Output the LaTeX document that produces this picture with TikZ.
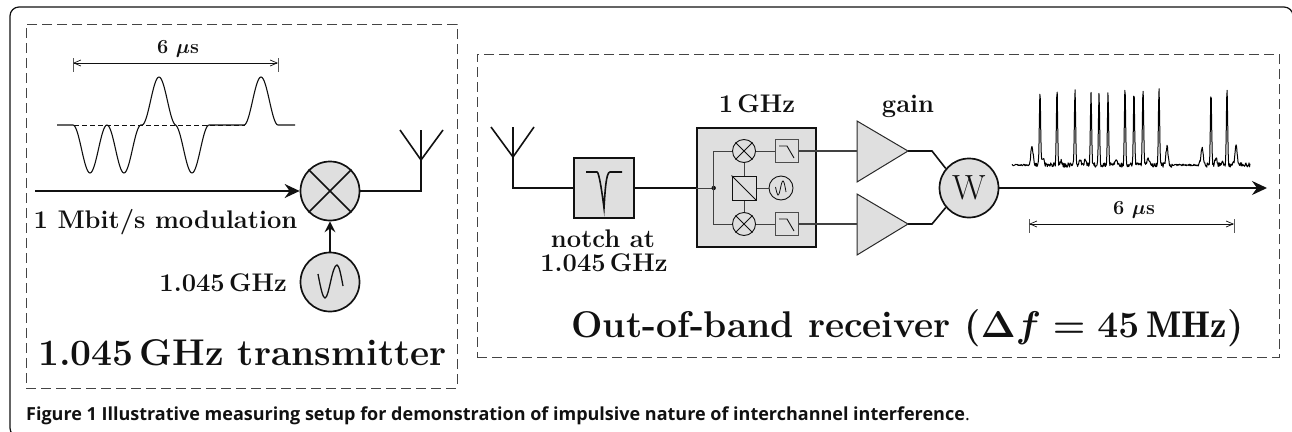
\RequirePackage{fix-cm}
\documentclass[tikz,border=0pt]{standalone}
\usepackage{fontspec}
\newfontfamily\capfont{Open Sans}
\usetikzlibrary{arrows.meta,calc}
\definecolor{boxgray}{HTML}{DFDFDF}
\definecolor{ink}{HTML}{111111}
\definecolor{dashink}{HTML}{444444}
\tikzset{
  dashbox/.style={draw=dashink,line width=0.9pt,dash pattern=on 10pt off 5pt},
  bigcirc/.style={circle,draw=ink,fill=boxgray,line width=1.7pt,minimum size=59pt,inner sep=0pt},
  smallcirc/.style={circle,draw=ink,fill=boxgray,line width=0.9pt,minimum size=23pt,inner sep=0pt},
  heavy/.style={draw=ink,line width=1.9pt},
  wire/.style={draw=ink,line width=1.6pt},
  thinwire/.style={draw=ink!80,line width=1pt},
  graybox/.style={rectangle,draw=ink,fill=boxgray,line width=1.7pt,inner sep=0pt},
  filterbox/.style={rectangle,draw=ink!75,fill=boxgray,line width=1pt,minimum size=23pt,inner sep=0pt},
  amp/.style={draw=ink!90,fill=boxgray,line width=1pt,line join=miter},
  dim/.style={draw=ink,line width=0.7pt,{Straight Barb[length=7pt,width=6pt]}-{Straight Barb[length=7pt,width=6pt]}},
  tick/.style={draw=ink!70,line width=0.8pt},
  bigtip/.style={-{Stealth[length=15pt,width=14pt,inset=5pt]}},
  bf25/.style={font=\fontsize{25.5}{25.5}\selectfont\bfseries\boldmath,text=ink,inner sep=0pt,anchor=base},
  bf20/.style={font=\fontsize{20}{20}\selectfont\bfseries\boldmath,text=ink,inner sep=0pt,anchor=base},
  bf36/.style={font=\fontsize{37.2}{37.2}\selectfont\bfseries\boldmath,text=ink,inner sep=0pt,anchor=base},
}
\pgfmathdeclarefunction{pls}{2}{\pgfmathparse{cos(180*min(abs(#1-#2),17)/34)^2}}
\pgfmathdeclarefunction{spk}{3}{\pgfmathparse{#3*exp(-(min(abs(#1-#2),5)/0.85)^2)}}
\pgfmathdeclarefunction{bmp}{3}{\pgfmathparse{#3*exp(-(min(abs(#1-#2),6)/1.5)^2)}}
\pgfmathdeclarefunction{nsamp}{1}{\pgfmathparse{(#1<1030||(#1>1172&&#1<1198))?1.6:4.5}}
\begin{document}
\begin{tikzpicture}[x=1pt,y=-1pt]
\useasboundingbox (0,0) rectangle (1292,431);
% outer frame
\draw[draw=ink,line width=1.2pt,rounded corners=9pt] (30,437) -- (10,437) -- (10,7) -- (1293,7) -- (1293,30);
% dashed groups
\node[dashbox,minimum width=431pt,minimum height=364pt,inner sep=0pt] (txgroup) at (241.5,206) {};
\node[dashbox,minimum width=802pt,minimum height=303pt,inner sep=0pt] (rxgroup) at (878,205.5) {};

% ---------- transmitter
\coordinate (d1a) at (73,63); \coordinate (d1b) at (278,63);
\draw[tick] (73,58) -- (73,72);
\draw[tick] (278,58) -- (278,72);
\draw[dim] (d1a) -- (d1b);
\node[bf20] (d1t) at (178,53) {6 $\mu$s};
\draw[draw=ink,line width=0.7pt,dash pattern=on 5pt off 3pt] (74,125) -- (245,125);
\draw[draw=ink,line width=1.1pt,line join=round] plot[domain=57:295,samples=240] (\x,{125+48*(pls(\x,90)+pls(\x,124)-pls(\x,159)+pls(\x,192)-pls(\x,261))});

\node[bigcirc] (mix) at (330,191) {};
\draw[draw=ink,line width=1.5pt] (mix.45) -- (mix.225) (mix.135) -- (mix.315);
\coordinate (inmod) at (35,191);
\draw[heavy,bigtip] (inmod) -- (mix.west);
\coordinate (ant1) at (421,160);
\coordinate (ant1c) at (421,130);
\coordinate (ant1l) at (400,130);
\coordinate (ant1r) at (443,130);
\draw[wire] (mix.east) -| (ant1);
\draw[wire] (ant1) -- (ant1c) (ant1l) -- (ant1) -- (ant1r);
\node[bf25] (modt) at (165.5,228) {1 Mbit/s modulation};
\node[bigcirc] (osc) at (330,282) {};
\draw[wire,-{Stealth[length=11pt,width=11pt,inset=4pt]}] (osc.north) -- (mix.south);
\draw[draw=ink,line width=1.3pt] (318,274) .. controls (321,290) and (323,298) .. (325,298) .. controls (329,298) and (332,265) .. (337,265) .. controls (339,265) and (341,275) .. (343,286);
\node[bf25,anchor=base east] (osct) at (287,291) {1.045\,GHz};
\node[bf36] (txt) at (242.5,365) {1.045\,GHz transmitter};

% ---------- receiver
\coordinate (ant2) at (513,157);
\coordinate (ant2c) at (513,127);
\coordinate (ant2l) at (491,127);
\coordinate (ant2r) at (534,127);
\draw[wire] (ant2) -- (ant2c) (ant2l) -- (ant2) -- (ant2r);
\node[graybox,minimum size=60pt] (notch) at (604,188) {};
\draw[wire] (ant2) |- (notch.west);
\draw[draw=ink,line width=1.6pt,line join=miter,miter limit=20] (586,172) -- (597,172) .. controls (599,172) and (602,192) .. (604,208) .. controls (605,192) and (606,172) .. (610,172) -- (622,172);
\node[graybox,minimum size=119pt] (down) at (756.5,187.5) {};
\draw[wire] (notch.east) -- (notch.east -| down.west);
\node[bf25] (notcht1) at (603,247) {notch at};
\node[bf25] (notcht2) at (604,271) {1.045\,GHz};
\node[bf25] (downt) at (757,112) {1\,GHz};

\coordinate (dot) at (713.7,188);
\draw[thinwire] (dot -| down.west) -- (dot);
\fill[ink] (dot) circle (2.2);
\node[smallcirc,fill=none] (m1) at (744,151) {};
\node[smallcirc,fill=none] (m2) at (744,224) {};
\draw[draw=ink,line width=0.9pt] (m1.45) -- (m1.225) (m1.135) -- (m1.315) (m2.45) -- (m2.225) (m2.135) -- (m2.315);
\node[rectangle,draw=ink,fill=boxgray,line width=1pt,minimum size=24pt,inner sep=0pt] (split) at (744,188) {};
\draw[draw=ink,line width=0.9pt] (split.north west) -- (split.south east);
\draw[thinwire] (dot) |- (m1.west);
\draw[thinwire] (dot) |- (m2.west);
\draw[thinwire] (m1) -- (split);
\draw[thinwire] (m2) -- (split);
\node[smallcirc,fill=none,minimum size=24pt] (lo) at (781,188) {};
\draw[thinwire] (split) -- (lo);
\draw[draw=ink,line width=0.8pt] (775.5,187) .. controls (776.5,192) and (777.5,195) .. (778,195) .. controls (780,195) and (781,181) .. (783,181) .. controls (784,181) and (785,186) .. (786,192);
\node[filterbox] (f1) at (786.5,151) {};
\node[filterbox] (f2) at (786.5,224) {};
\draw[draw=ink,line width=0.9pt] (779,146) -- (787,146) -- (794,158);
\draw[draw=ink,line width=0.9pt] (779,219) -- (787,219) -- (794,231);
\draw[thinwire] (m1) -- (f1);
\draw[thinwire] (m2) -- (f2);
\coordinate (a1w) at (857,151); \coordinate (a2w) at (857,224);
\draw[amp] (857,121) -- (908,151) -- (857,182) -- cycle;
\draw[amp] (857,194) -- (908,224) -- (857,255) -- cycle;
\coordinate (a1e) at (908,151); \coordinate (a2e) at (908,224);
\draw[thinwire,line width=1.4pt] (f1) -- (a1w);
\draw[thinwire,line width=1.4pt] (f2) -- (a2w);
\node[bf25] (gaint) at (908,112) {gain};
\node[bigcirc] (wc) at (969,188) {};
\node[font=\fontsize{35}{35}\selectfont,text=ink,inner sep=0pt] (wt) at (wc) {W};
\coordinate (b1) at (932,151); \coordinate (b2) at (932,224);
\draw[wire] (a1e) -- (b1) -- (wc.140);
\draw[wire] (a2e) -- (b2) -- (wc.220);
\coordinate (outp) at (1267,188);
\draw[heavy,bigtip] (wc.east) -- (outp);
\pgfmathsetseed{7}
\draw[draw=black,line width=1pt,line join=round] plot[domain=1012:1250,samples=480] (\x,{165+nsamp(\x)*(rnd-0.5)
 -spk(\x,1040,76)-spk(\x,1057,77)-spk(\x,1075,78)-spk(\x,1091,74)-spk(\x,1099,71)-spk(\x,1108,72)-spk(\x,1125,78)-spk(\x,1134,74)-spk(\x,1143,77)-spk(\x,1159,76)-spk(\x,1211,74)-spk(\x,1227,78)
 -bmp(\x,1032,20)-bmp(\x,1167,18)-bmp(\x,1202,18)-bmp(\x,1236,20)
 -bmp(\x,1043,6)-bmp(\x,1061,4)-bmp(\x,1080,5)-bmp(\x,1085,4)-bmp(\x,1116,4)-bmp(\x,1148,6)-bmp(\x,1216,6)-bmp(\x,1222,3)});
\draw[tick] (1029,219) -- (1029,233);
\draw[tick] (1234,219) -- (1234,233);
\coordinate (d2a) at (1029,224); \coordinate (d2b) at (1234,224);
\draw[dim] (d2a) -- (d2b);
\node[bf20] (d2t) at (1134,214) {6 $\mu$s};
\node[bf36] (rxt) at (907.5,337) {Out-of-band receiver ($\Delta f=45\,\mathrm{MHz}$)};

% caption
\node[anchor=base west,inner sep=0pt,font=\capfont\fontsize{18}{18}\selectfont,text=ink] (cap) at (26,420) {\textbf{Figure 1} \textbf{Illustrative measuring setup for demonstration of impulsive nature of interchannel interference}.};
\end{tikzpicture}
\end{document}
